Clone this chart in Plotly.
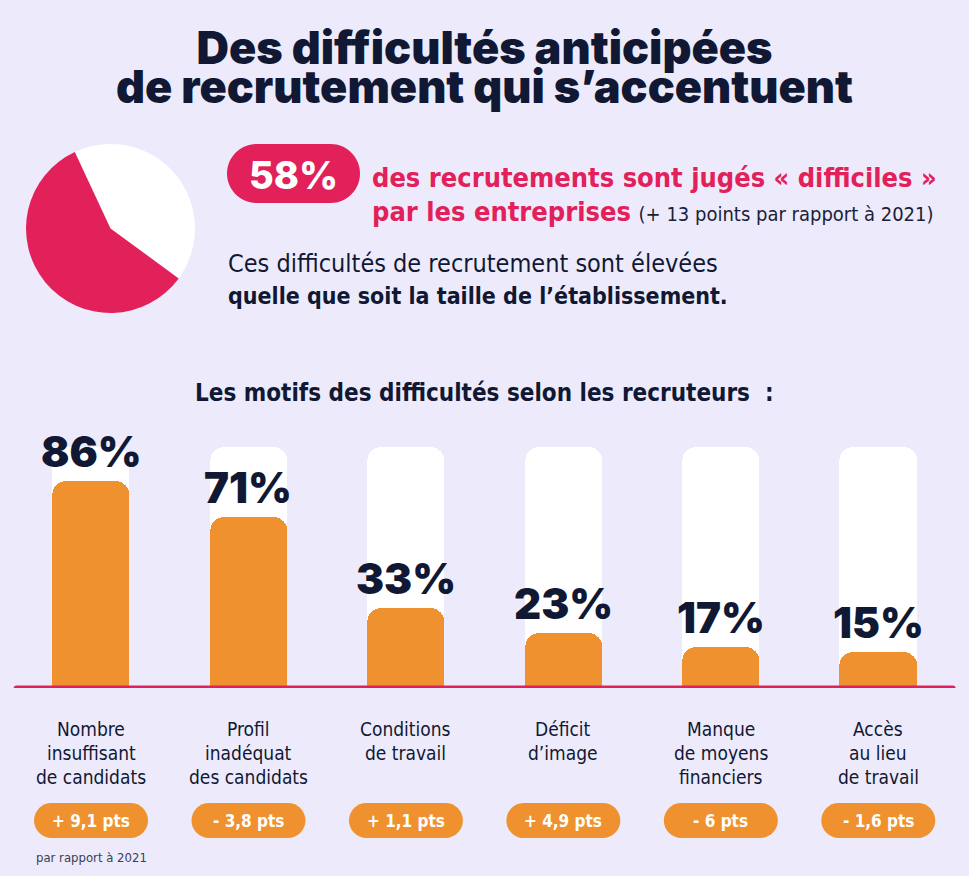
import plotly.graph_objects as go

# ---------------- data ----------------
categories = [
    "Nombre<br>insuffisant<br>de candidats",
    "Profil<br>inadéquat<br>des candidats",
    "Conditions<br>de travail",
    "Déficit<br>d’image",
    "Manque<br>de moyens<br>financiers",
    "Accès<br>au lieu<br>de travail",
]
values = [86, 71, 33, 23, 17, 15]
track_values = [100, 100, 100, 100, 100, 100]
changes = ["+ 9,1 pts", "- 3,8 pts", "+ 1,1 pts", "+ 4,9 pts", "- 6 pts", "- 1,6 pts"]
pie_labels = ["Autres", "Difficiles"]
pie_values = [42, 58]

# ---------------- style ----------------
W, H = 969, 876
BG = "#EDEBFB"
PINK = "#E2205A"
ORANGE = "#F0912F"
NAVY = "#111833"
COND = "DejaVu Sans Condensed, DejaVu Sans, sans-serif"
HEAVY = "Inter, Lato, sans-serif"

def py(px):
    return 1 - px / H

def px_x(px):
    return px / W

K = 0.5523
def pill_path(hw, hh):
    r = hh
    a = hw - r
    return (f"M {-a},{-r} L {a},{-r} "
            f"C {a + K*r},{-r} {hw},{-K*r} {hw},0 "
            f"C {hw},{K*r} {a + K*r},{r} {a},{r} "
            f"L {-a},{r} "
            f"C {-a - K*r},{r} {-hw},{K*r} {-hw},0 "
            f"C {-hw},{-K*r} {-a - K*r},{-r} {-a},{-r} Z")

x_idx = list(range(len(values)))
BW = 0.49

fig = go.Figure()

fig.add_trace(go.Pie(
    labels=pie_labels, values=pie_values, sort=False, direction="clockwise",
    rotation=-25, marker=dict(colors=["#FFFFFF", PINK], line=dict(width=0)),
    textinfo="none", hoverinfo="skip", showlegend=False,
    domain=dict(x=[px_x(25), px_x(196)], y=[py(313), py(144)]),
))

# white tracks (own axes so that both bar sets get rounded tops)
fig.add_trace(go.Bar(
    x=x_idx, y=track_values, width=BW,
    marker=dict(color="#FFFFFF", line=dict(width=0), cornerradius=14),
    hoverinfo="skip", showlegend=False, xaxis="x", yaxis="y",
))
fig.add_trace(go.Bar(
    x=x_idx, y=values, width=BW,
    marker=dict(color=ORANGE, line=dict(width=0), cornerradius=14),
    hoverinfo="skip", showlegend=False, xaxis="x2", yaxis="y2",
))

ann = []
shapes = []

# title (one block, tight leading: base size sets the line spacing)
ann.append(dict(text="<span style='font-size:45px'>Des difficultés anticipées</span><br>"
                     "<span style='font-size:45px'>de recrutement qui s’accentuent</span>",
                x=0.5, y=py(67), xref="paper", yref="paper",
                showarrow=False, font=dict(family=HEAVY, size=30, color=NAVY, weight=900),
                xanchor="center", yanchor="middle", align="center"))

# 58% pill
shapes.append(dict(type="path", xref="paper", yref="paper", xsizemode="pixel", ysizemode="pixel",
                   xanchor=px_x(293.5), yanchor=py(173.5), path=pill_path(66.5, 29.5),
                   fillcolor=PINK, line=dict(width=0), layer="below"))
ann.append(dict(text="58%", x=px_x(293.5), y=py(175), xref="paper", yref="paper",
                showarrow=False, font=dict(family=HEAVY, size=38, color="#FFFFFF", weight=800),
                xanchor="center", yanchor="middle"))
ann.append(dict(text="<b>des recrutements sont jugés « difficiles »</b>", x=px_x(370), y=py(178),
                xref="paper", yref="paper", showarrow=False,
                font=dict(family=COND, size=27, color=PINK), xanchor="left", yanchor="middle"))
ann.append(dict(text="<b>par les entreprises</b> <span style='font-size:20px;color:#1b2038'>(+ 13 points par rapport à 2021)</span>",
                x=px_x(370), y=py(211), xref="paper", yref="paper", showarrow=False,
                font=dict(family=COND, size=27, color=PINK), xanchor="left", yanchor="middle"))
ann.append(dict(text="Ces difficultés de recrutement sont élevées", x=px_x(226), y=py(263),
                xref="paper", yref="paper", showarrow=False,
                font=dict(family=COND, size=25, color=NAVY), xanchor="left", yanchor="middle"))
ann.append(dict(text="<b>quelle que soit la taille de l’établissement.</b>", x=px_x(226), y=py(296),
                xref="paper", yref="paper", showarrow=False,
                font=dict(family=COND, size=23, color=NAVY), xanchor="left", yanchor="middle"))

ann.append(dict(text="<b>Les motifs des difficultés selon les recruteurs  :</b>", x=px_x(484), y=py(393),
                xref="paper", yref="paper", showarrow=False,
                font=dict(family=COND, size=24, color=NAVY), xanchor="center", yanchor="middle"))

# bar value labels, category labels, change pills
for i, (v, cat, ch) in enumerate(zip(values, categories, changes)):
    ann.append(dict(text=f"{v}%", x=i, y=v, xref="x", yref="y", showarrow=False,
                    font=dict(family=HEAVY, size=42, color=NAVY, weight=900),
                    xanchor="center", yanchor="bottom", yshift=2))
    for j, line in enumerate(cat.split("<br>")):
        ann.append(dict(text=line, x=i, y=py(729 + 24 * j), xref="x", yref="paper", showarrow=False,
                        font=dict(family=COND, size=19, color=NAVY), xanchor="center", yanchor="middle"))
    shapes.append(dict(type="path", xref="x", yref="paper", xsizemode="pixel", ysizemode="pixel",
                       xanchor=i, yanchor=py(820.5), path=pill_path(57, 17.5),
                       fillcolor=ORANGE, line=dict(width=0), layer="above"))
    ann.append(dict(text=f"<b>{ch}</b>", x=i, y=py(821), xref="x", yref="paper", showarrow=False,
                    font=dict(family=COND, size=17, color="#FFFFFF"), xanchor="center", yanchor="middle"))

ann.append(dict(text="par rapport à 2021", x=0, y=py(857), xref="x", yref="paper", showarrow=False,
                font=dict(family=COND, size=13, color="#3a3f58"), xanchor="center", yanchor="middle"))

# baseline with rounded ends, centred on the category axis
shapes.append(dict(type="path", xref="x", yref="y", xsizemode="pixel", ysizemode="pixel",
                   xanchor=(len(values) - 1) / 2, yanchor=0, path=pill_path(471, 2.6),
                   fillcolor=PINK, line=dict(width=0), layer="above"))

XD = [12.3 / W, 957 / W]
YD = [py(688), py(447)]
fig.update_layout(
    width=W, height=H, margin=dict(l=0, r=0, t=0, b=0),
    paper_bgcolor=BG, plot_bgcolor="rgba(0,0,0,0)",
    barmode="overlay", bargap=0,
    xaxis=dict(domain=XD, range=[-0.5, 5.5], visible=False, fixedrange=True),
    yaxis=dict(domain=YD, range=[0, 100], visible=False, fixedrange=True),
    xaxis2=dict(domain=XD, range=[-0.5, 5.5], visible=False, fixedrange=True, overlaying="x", anchor="y2"),
    yaxis2=dict(domain=YD, range=[0, 100], visible=False, fixedrange=True, overlaying="y", anchor="x2"),
    annotations=ann, shapes=shapes, showlegend=False,
)

fig.write_html("out.html", config={"displayModeBar": False},
               post_script="document.body.style.margin='0';document.body.style.background='" + BG + "';")
